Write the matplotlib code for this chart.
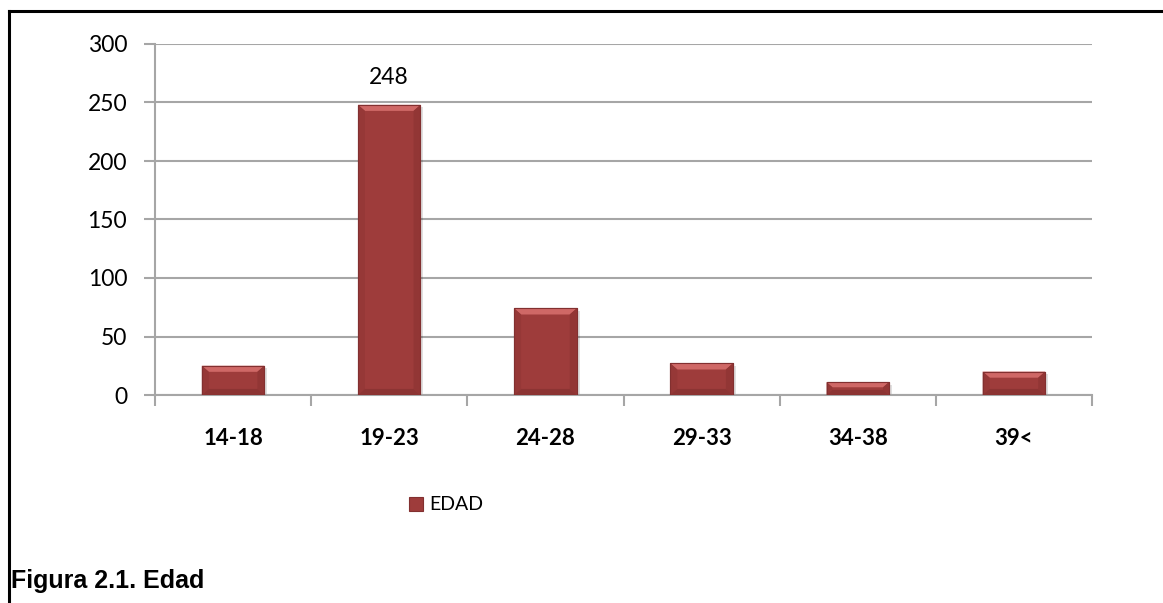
import matplotlib
matplotlib.use("Agg")
import matplotlib.pyplot as plt
from matplotlib.patches import Patch, Polygon
from matplotlib.lines import Line2D
import numpy as np

categories = ["14-18", "19-23", "24-28", "29-33", "34-38", "39<"]
values = [25, 248, 74, 27, 11, 20]
series_name = "EDAD"
yticks = [0, 50, 100, 150, 200, 250, 300]
labeled = {1: "248"}

W, H = 1163, 603
fig = plt.figure(figsize=(W / 100, H / 100), dpi=100)
ax = fig.add_axes([155 / W, 1 - 395 / H, (1092 - 155) / W, (395 - 44) / H])

face = "#9E3C3B"
light = "#CF6866"
dark = "#823030"
grid_c = "#A6A6A6"

x = np.arange(len(categories))
bw = 0.4
bars = ax.bar(x, values, width=bw, color=face, edgecolor=dark, linewidth=0.8, zorder=3)

# soft shadow & bevel highlight on each bar (computed from bar geometry)
fig.canvas.draw()
to_px = ax.transData
inv = ax.transData.inverted()
for b in bars:
    x0, y0 = b.get_x(), b.get_y()
    x1, y1 = x0 + b.get_width(), y0 + b.get_height()
    (px0, py0) = to_px.transform((x0, y0))
    (px1, py1) = to_px.transform((x1, y1))
    sh = inv.transform([(px0 + 2, py0 - 4), (px1 + 3, py0 - 4), (px1 + 3, py1 - 3), (px0 + 2, py1 - 3)])
    ax.add_patch(Polygon(sh, closed=True, facecolor="#000000", alpha=0.12, edgecolor="none", zorder=2))
    d = min(7, (py1 - py0) / 2.5)
    pts = inv.transform([(px0, py1), (px1, py1), (px1 - d, py1 - d), (px0 + d, py1 - d)])
    ax.add_patch(Polygon(pts, closed=True, facecolor=light, edgecolor="none", zorder=4))
    pts_l = inv.transform([(px0, py1), (px0 + d, py1 - d), (px0 + d, py0 + d), (px0, py0)])
    ax.add_patch(Polygon(pts_l, closed=True, facecolor="#963837", edgecolor="none", zorder=4))
    pts_r = inv.transform([(px1, py1), (px1 - d, py1 - d), (px1 - d, py0 + d), (px1, py0)])
    ax.add_patch(Polygon(pts_r, closed=True, facecolor="#923635", edgecolor="none", zorder=4))
    pts_b = inv.transform([(px0, py0), (px0 + d, py0 + d), (px1 - d, py0 + d), (px1, py0)])
    ax.add_patch(Polygon(pts_b, closed=True, facecolor="#8C3433", edgecolor="none", zorder=4))
    ax.add_patch(Polygon(inv.transform([(px0, py0), (px1, py0), (px1, py1), (px0, py1)]),
                         closed=True, facecolor="none", edgecolor=dark, linewidth=0.8, zorder=5))

for i, txt in labeled.items():
    ax.annotate(txt, (x[i], values[i]), xytext=(0, 12), textcoords="offset points",
                ha="center", va="bottom", fontsize=16.5, family="Lato", zorder=5)

ax.set_xlim(-0.5, len(categories) - 0.5)
ax.set_ylim(0, 300)
ax.set_yticks(yticks)
ax.set_yticklabels([str(v) for v in yticks], fontsize=16.5, family="Lato")
ax.set_xticks(x)
ax.set_xticklabels(categories, fontsize=16, family="Lato", fontweight="bold")
ax.tick_params(axis="x", length=0, pad=24)
ax.tick_params(axis="y", length=8, width=1.5, color=grid_c, pad=12)
ax.set_xticks(np.arange(-0.5, len(categories)), minor=True)
ax.tick_params(axis="x", which="minor", length=8, width=1.5, color=grid_c)

ax.grid(axis="y", color=grid_c, linewidth=1.5, zorder=0)
ax.set_axisbelow(True)
for s in ["top", "right"]:
    ax.spines[s].set_visible(False)
for s in ["left", "bottom"]:
    ax.spines[s].set_color(grid_c)
    ax.spines[s].set_linewidth(1.5)

handle = Patch(facecolor=face, edgecolor=dark, linewidth=0.8)
fig.legend([handle], [series_name], loc="center", bbox_to_anchor=(446 / W, 1 - 505 / H),
           frameon=False, prop={"family": "Lato", "size": 14}, handlelength=0.75,
           handleheight=0.75, handletextpad=0.3)

fig.text(11 / W, 1 - 581 / H, "Figura 2.1. Edad", fontsize=18, fontweight="bold",
         family="Liberation Sans", va="center", ha="left")

fig.add_artist(Line2D([9 / W, 1.0], [1 - 11 / H, 1 - 11 / H], color="black", linewidth=2.2,
                      transform=fig.transFigure))
fig.add_artist(Line2D([9 / W, 9 / W], [1 - 11 / H, 0], color="black", linewidth=2.2,
                      transform=fig.transFigure))

fig.savefig("out.png", dpi=100, facecolor="white")
